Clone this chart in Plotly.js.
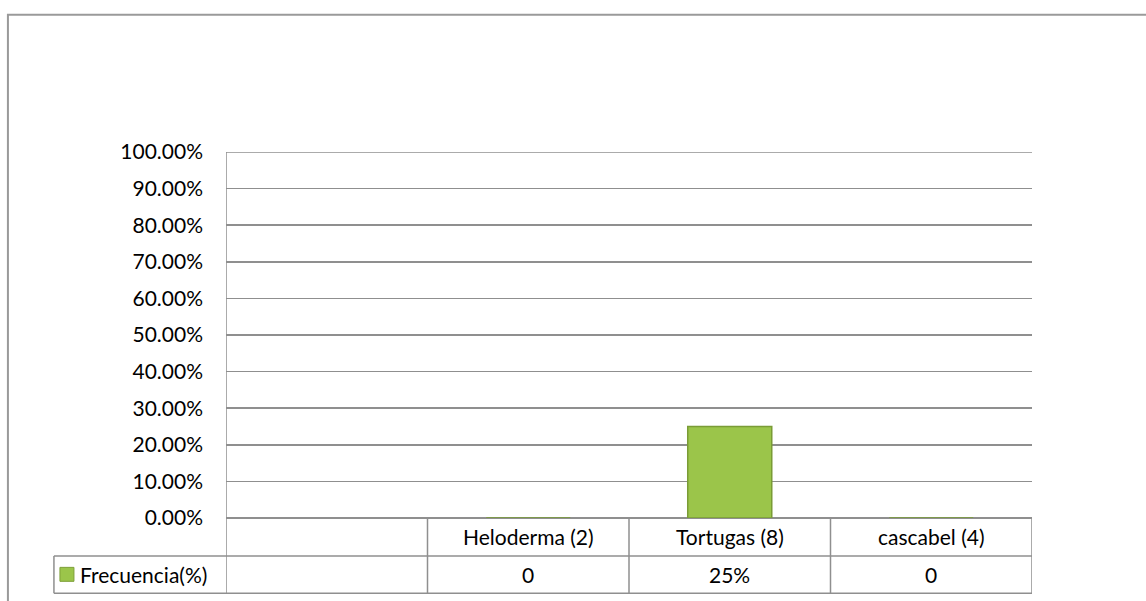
<!DOCTYPE html>
<html>
<head>
<meta charset="utf-8">
<script src="https://cdn.plot.ly/plotly-3.0.1.min.js"></script>
<style>html,body{margin:0;padding:0;background:#fff;}#chart{width:1146px;height:601px;}</style>
</head>
<body>
<div id="chart"></div>
<script>
// ---- data ----
const categories = [" ", "Heloderma (2)", "Tortugas (8)", "cascabel (4)"];
const barCategories = ["Heloderma (2)", "Tortugas (8)", "cascabel (4)"];
const frecuencia = [0, 0.25, 0];
const seriesName = "Frecuencia(%)";
const yTickVals = [0, 0.1, 0.2, 0.3, 0.4, 0.5, 0.6, 0.7, 0.8, 0.9, 1.0];

// ---- layout helpers ----
const W = 1146, H = 601;
const L = 226, R = 1031.7, T = 151.5, B = 518.5;
const pw = R - L, ph = B - T;
const px = v => (v - L) / pw;        // pixel -> paper x
const py = v => (B - v) / ph;        // pixel -> paper y
const font = "Lato, 'Open Sans', sans-serif";
const fsize = 21;
const fweight = "normal";
const lineCol = "#8f8f8f";

const row1Bottom = py(556.5);
const row2Bottom = py(594);
const legendLeft = px(54);

const shapes = [];
// outer chart border
shapes.push({type: "rect", xref: "paper", yref: "paper", x0: px(8), x1: px(1160), y0: py(615), y1: py(14),
  line: {color: "#9a9a9a", width: 2}, fillcolor: "rgba(0,0,0,0)", layer: "below"});
// top gridline (range edge)
shapes.push({type: "line", xref: "paper", yref: "y", x0: 0, x1: 1, y0: yTickVals[yTickVals.length - 1], y1: yTickVals[yTickVals.length - 1],
  line: {color: lineCol, width: 1.5}, layer: "below"});
// vertical lines of table (at category boundaries)
for (let i = 0; i <= categories.length; i++) {
  const xb = i - 0.5;
  shapes.push({type: "line", xref: "x", yref: "paper", x0: xb, x1: xb,
    y0: row2Bottom, y1: i === 0 ? 1 : 0, line: {color: lineCol, width: 1.5}});
}
// horizontal lines of table
shapes.push({type: "line", xref: "x", yref: "paper", x0: -0.5, x1: categories.length - 0.5, y0: row1Bottom, y1: row1Bottom, line: {color: lineCol, width: 1.5}});
shapes.push({type: "line", xref: "paper", yref: "paper", x0: legendLeft, x1: 0, y0: row1Bottom, y1: row1Bottom, line: {color: lineCol, width: 1.5}});
shapes.push({type: "line", xref: "paper", yref: "paper", x0: legendLeft, x1: 1, y0: row2Bottom, y1: row2Bottom, line: {color: lineCol, width: 1.5}});
shapes.push({type: "line", xref: "paper", yref: "paper", x0: legendLeft, x1: legendLeft, y0: row2Bottom, y1: row1Bottom, line: {color: lineCol, width: 1.5}});
// legend key
shapes.push({type: "rect", xref: "paper", yref: "paper", x0: px(60), x1: px(74), y0: py(582), y1: py(568),
  fillcolor: "#9bc54a", line: {color: "#7d9f38", width: 1}});

const annotations = [];
const row1Mid = (py(518.5) + row1Bottom) / 2;
const row2Mid = (row1Bottom + row2Bottom) / 2;
const tfont = {family: font, size: fsize, color: "#000", weight: fweight};
barCategories.forEach((c, i) => {
  annotations.push({xref: "x", yref: "paper", x: c, y: row1Mid, text: c, showarrow: false,
    font: tfont, xanchor: "center", yanchor: "middle"});
  const v = frecuencia[i];
  annotations.push({xref: "x", yref: "paper", x: c, y: row2Mid, text: v === 0 ? "0" : Math.round(v * 100) + "%", showarrow: false,
    font: tfont, xanchor: "center", yanchor: "middle"});
});
annotations.push({xref: "paper", yref: "paper", x: px(78), y: row2Mid, text: seriesName, showarrow: false,
  font: tfont, xanchor: "left", yanchor: "middle"});

const trace = {
  type: "bar", x: barCategories, y: frecuencia, name: seriesName,
  marker: {color: "#9bc54a", line: {color: "#7a9c36", width: 1.5}},
  hoverinfo: "skip"
};

const layout = {
  width: W, height: H,
  margin: {l: L, r: W - R, t: T, b: H - B, pad: 0},
  paper_bgcolor: "#fff", plot_bgcolor: "#fff",
  showlegend: false,
  bargap: 0.583,
  xaxis: {type: "category", categoryorder: "array", categoryarray: categories,
    range: [-0.5, categories.length - 0.5], showticklabels: false, ticks: "",
    showgrid: false, zeroline: false, showline: false, fixedrange: true},
  yaxis: {range: [0, 1], tickvals: yTickVals, tickformat: ".2%", ticks: "",
    showgrid: true, gridcolor: lineCol, gridwidth: 1.5, zeroline: true, zerolinecolor: lineCol, zerolinewidth: 1.5,
    showline: false, ticklabelstandoff: 22,
    tickfont: tfont, fixedrange: true},
  shapes: shapes,
  annotations: annotations
};

Plotly.newPlot("chart", [trace], layout, {displayModeBar: false, staticPlot: true});
</script>
</body>
</html>
